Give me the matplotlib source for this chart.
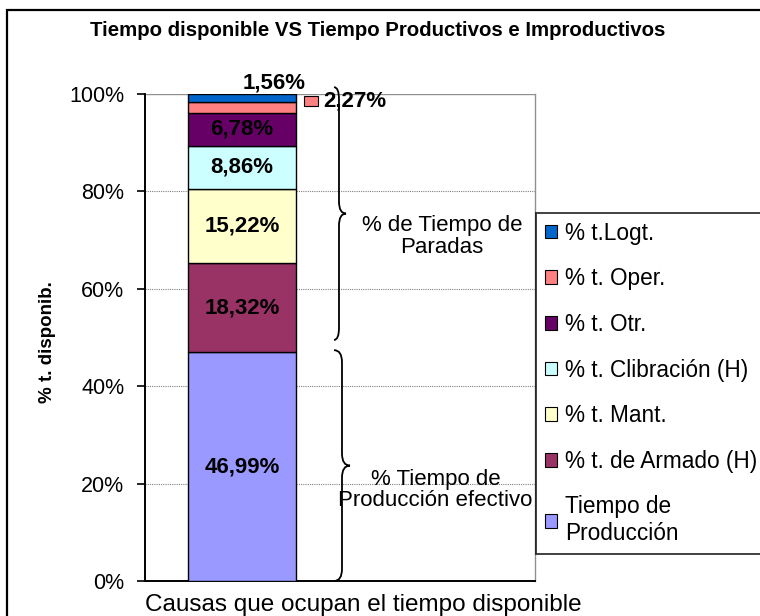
import numpy as np
import matplotlib
matplotlib.use("Agg")
import matplotlib.pyplot as plt
from matplotlib.path import Path
from matplotlib.patches import PathPatch, Rectangle

plt.rcParams['font.family'] = ['Liberation Sans', 'DejaVu Sans']

# Data (bottom to top of the stacked bar)
categories = ['Tiempo de\nProducción', '% t. de Armado (H)', '% t. Mant.',
              '% t. Clibración (H)', '% t. Otr.', '% t. Oper.', '% t.Logt.']
values = [46.99, 18.32, 15.22, 8.86, 6.78, 2.27, 1.56]
colors = ['#9999FF', '#993366', '#FFFFCC', '#CCFFFF', '#660066', '#FF8080', '#0066CC']
yticks = [0, 20, 40, 60, 80, 100]
ytick_labels = ['0%', '20%', '40%', '60%', '80%', '100%']

W, H = 760, 616
fig = plt.figure(figsize=(W / 100, H / 100), dpi=100)
ax = fig.add_axes([145 / W, 1 - 581 / H, 390 / W, 487 / H])

# outer chart frame (cropped on right/bottom)
fig.patches.append(Rectangle((7 / W, -0.1), 1.2, 1 - 10 / H + 0.1, transform=fig.transFigure,
                             fill=False, edgecolor='black', linewidth=1.6))

bar_x, bar_w = 0.2487, 0.277
bottom = 0
bars = []
for v, c, lab in zip(values, colors, categories):
    ax.bar(bar_x, v, bar_w, bottom=bottom, color=c, edgecolor='black', linewidth=1.0,
           label=lab, zorder=3)
    bars.append((bottom, v))
    bottom += v

ax.set_xlim(0, 1)
ax.set_ylim(0, 100)
ax.set_yticks(yticks)
ax.set_yticklabels(ytick_labels, fontsize=15.5)
ax.set_xticks([])
ax.tick_params(axis='y', direction='out', length=6, width=1.2, pad=9)
for y in yticks[1:-1]:
    ax.axhline(y, color='#808080', linewidth=0.8, linestyle=(0, (1, 1)), zorder=1)
ax.axhline(100, color='#909090', linewidth=1.0, zorder=1)
ax.spines['top'].set_visible(False)
ax.spines['right'].set_color('#909090')
ax.spines['right'].set_linewidth(1.0)
ax.spines['left'].set_linewidth(1.4)
ax.spines['bottom'].set_linewidth(1.4)

# value labels
for i, ((b0, v), val) in enumerate(zip(bars, values)):
    txt = f"{val:.2f}%".replace('.', ',')
    if i <= 4:
        ax.text(bar_x, b0 + v / 2, txt, ha='center', va='center', fontsize=16,
                fontweight='bold', zorder=4)
    elif i == 5:
        ax.add_patch(Rectangle((0.4077, 97.5), 0.036, 2.1, facecolor=colors[5],
                               edgecolor='black', linewidth=0.8, clip_on=False, zorder=4))
        ax.text(0.456, 98.6, txt, ha='left', va='center', fontsize=16,
                fontweight='bold', zorder=4, clip_on=False)
    else:
        ax.text(0.332, 102.3, txt, ha='center', va='center', fontsize=16,
                fontweight='bold', zorder=4, clip_on=False)


def brace(xe, xs, xt, y0, y1, r):
    ym = (y0 + y1) / 2
    verts = [(xe, y1), (xs, y1), (xs, y1 - r), (xs, ym + r), (xs, ym), (xt, ym),
             (xs, ym), (xs, ym - r), (xs, y0 + r), (xs, y0), (xe, y0)]
    codes = [Path.MOVETO, Path.CURVE3, Path.CURVE3, Path.LINETO, Path.CURVE3, Path.CURVE3,
             Path.CURVE3, Path.CURVE3, Path.LINETO, Path.CURVE3, Path.CURVE3]
    ax.add_patch(PathPatch(Path(verts, codes), fill=False, edgecolor='black',
                           linewidth=1.3, clip_on=False, zorder=5))


brace(0.4846, 0.4974, 0.5154, 49.5, 101.4, 2.5)
brace(0.4846, 0.5051, 0.5256, 0.0, 47.4, 2.5)

ax.text(0.762, 70.8, '% de Tiempo de\nParadas', ha='center', va='center', fontsize=16,
        linespacing=1.05, zorder=4)
ax.text(0.745, 18.7, '% Tiempo de\nProducción efectivo', ha='center', va='center',
        fontsize=16, linespacing=1.05, zorder=4)

ax.set_xlabel('Causas que ocupan el tiempo disponible', fontsize=17.5, labelpad=4)
ax.xaxis.set_label_coords(0.0, -0.026)
ax.xaxis.label.set_horizontalalignment('left')
ax.xaxis.label.set_verticalalignment('top')
ax.set_ylabel('% t. disponib.', fontsize=13.5, fontweight='bold')
ax.yaxis.set_label_coords(-0.228, 0.49)

fig.text(378 / W, 1 - 30 / H, 'Tiempo disponible VS Tiempo Productivos e Improductivos',
         ha='center', va='center', fontsize=14.7, fontweight='bold')

handles, labels = ax.get_legend_handles_labels()
leg = fig.legend(handles[::-1], labels[::-1], loc='upper left',
                 bbox_to_anchor=(536 / W, 1 - 213 / H), fontsize=16.3, frameon=True,
                 fancybox=False, edgecolor='black', handlelength=0.55, handleheight=0.55,
                 handletextpad=0.35, labelspacing=1.0, borderpad=0.38, borderaxespad=0)
leg.get_frame().set_linewidth(1.3)
for h in leg.legend_handles:
    h.set_linewidth(0.8)

fig.savefig('out.png', dpi=100)
